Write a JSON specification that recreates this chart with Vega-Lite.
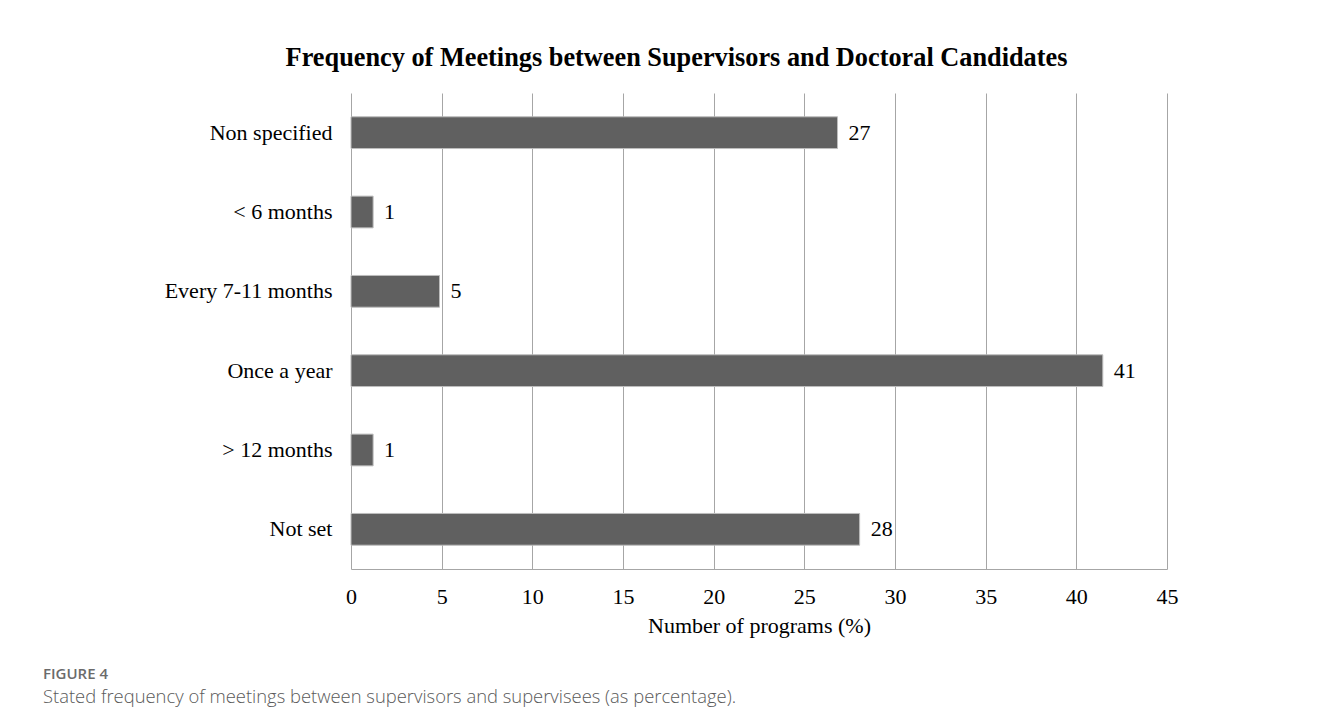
{
  "$schema": "https://vega.github.io/schema/vega-lite/v6.json",
  "width": 816,
  "height": 476,
  "autosize": "none",
  "padding": {"left": 351, "top": 93, "right": 168, "bottom": 157},
  "background": "white",
  "title": {
    "text": "FIGURE 4",
    "subtitle": "Stated frequency of meetings between supervisors and supervisees (as percentage).",
    "orient": "bottom",
    "anchor": "start",
    "frame": "group",
    "dx": -308,
    "offset": 31,
    "font": "Open Sans",
    "fontSize": 15,
    "fontWeight": 600,
    "color": "#6b6b6b",
    "subtitleFont": "Open Sans",
    "subtitleFontSize": 18.4,
    "subtitleFontWeight": 300,
    "subtitleColor": "#5a5a5a",
    "subtitlePadding": 6
  },
  "data": {
    "values": [
      {"frequency": "Non specified", "share": 26.83},
      {"frequency": "< 6 months", "share": 1.22},
      {"frequency": "Every 7-11 months", "share": 4.88},
      {"frequency": "Once a year", "share": 41.46},
      {"frequency": "> 12 months", "share": 1.22},
      {"frequency": "Not set", "share": 28.05}
    ]
  },
  "encoding": {
    "y": {
      "field": "frequency",
      "type": "nominal",
      "sort": null,
      "scale": {"paddingInner": 0.6, "paddingOuter": 0.3},
      "axis": {
        "title": null,
        "ticks": false,
        "domain": false,
        "labelFont": "Liberation Serif",
        "labelFontSize": 22,
        "labelColor": "#000000",
        "labelPadding": 19
      }
    }
  },
  "layer": [
    {
      "mark": {"type": "bar", "color": "#606060", "stroke": "#bdbdbd", "strokeWidth": 1},
      "encoding": {
        "x": {
          "field": "share",
          "type": "quantitative",
          "scale": {"domain": [0, 45], "nice": false},
          "axis": {
            "values": [0, 5, 10, 15, 20, 25, 30, 35, 40, 45],
            "title": "Number of programs (%)",
            "grid": true,
            "gridColor": "#a6a6a6",
            "gridWidth": 1,
            "ticks": false,
            "domain": true,
            "domainColor": "#a6a6a6",
            "domainWidth": 1,
            "labelFlush": false,
            "labelFont": "Liberation Serif",
            "labelFontSize": 22,
            "labelColor": "#000000",
            "labelPadding": 17,
            "titleFont": "Liberation Serif",
            "titleFontSize": 22,
            "titleFontWeight": "normal",
            "titleColor": "#000000",
            "titlePadding": 8
          }
        }
      }
    },
    {
      "mark": {
        "type": "text",
        "align": "left",
        "baseline": "middle",
        "dx": 11,
        "font": "Liberation Serif",
        "fontSize": 22,
        "color": "#000000"
      },
      "encoding": {
        "x": {
          "field": "share",
          "type": "quantitative",
          "axis": {
            "orient": "top",
            "title": "Frequency of Meetings between Supervisors and Doctoral Candidates",
            "labels": false,
            "ticks": false,
            "domain": false,
            "grid": false,
            "titleFont": "Liberation Serif",
            "titleFontSize": 26.3,
            "titleFontWeight": "bold",
            "titleColor": "#000000",
            "titleX": 325,
            "titleY": -28,
            "titleAlign": "center",
            "titleBaseline": "alphabetic"
          }
        },
        "text": {"field": "share", "type": "quantitative", "format": ".0f"}
      }
    }
  ],
  "resolve": {"axis": {"x": "independent"}},
  "config": {"view": {"stroke": null}}
}
